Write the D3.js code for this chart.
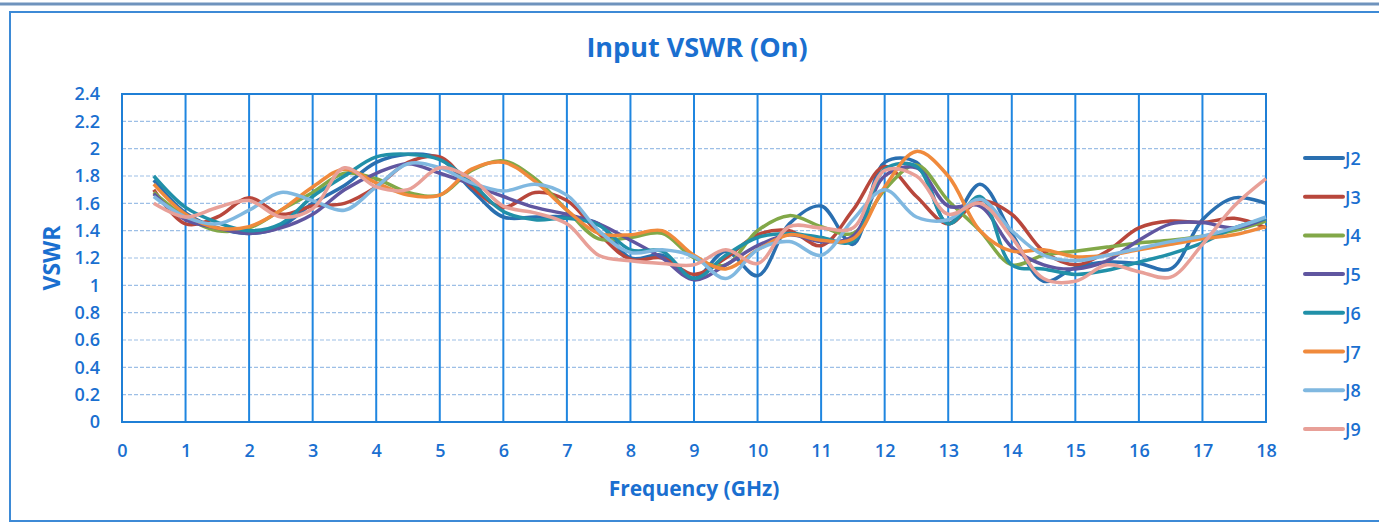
<!DOCTYPE html>
<html>
<head>
<meta charset="utf-8">
<script src="https://cdn.jsdelivr.net/npm/d3@7"></script>
<style>
  body { margin: 0; background: #fff; }
  text { font-family: "Open Sans", "Noto Sans", sans-serif; fill: #1a6fd0; }
  .tick text { font-size: 18px; }
  .title { font-size: 27px; font-weight: bold; }
  .axisTitle { font-size: 21px; font-weight: bold; }
</style>
</head>
<body>
<div id="chart"></div>
<script>
// Input VSWR (On) - 8 ports vs frequency

// frequency points (GHz)
var freq = [0.5, 1, 1.5, 2, 2.5, 3, 3.5, 4, 4.5, 5, 5.5, 6, 6.5, 7, 7.5, 8, 8.5, 9,
  9.5, 10, 10.5, 11, 11.5, 12, 12.5, 13, 13.5, 14, 14.5, 15, 15.5, 16, 16.5, 17, 17.5, 18];

var j2 = [1.77, 1.53, 1.42, 1.38, 1.43, 1.60, 1.73, 1.90, 1.96, 1.93, 1.70, 1.50, 1.50, 1.50, 1.45, 1.20, 1.22, 1.05,
  1.25, 1.07, 1.45, 1.58, 1.30, 1.90, 1.90, 1.45, 1.74, 1.38, 1.03, 1.13, 1.17, 1.16, 1.12, 1.48, 1.64, 1.60];
var j3 = [1.70, 1.45, 1.50, 1.64, 1.52, 1.58, 1.60, 1.72, 1.90, 1.94, 1.72, 1.57, 1.68, 1.62, 1.38, 1.19, 1.20, 1.08,
  1.20, 1.37, 1.40, 1.29, 1.55, 1.87, 1.65, 1.45, 1.62, 1.52, 1.25, 1.15, 1.25, 1.42, 1.47, 1.46, 1.49, 1.42];
var j4 = [1.68, 1.50, 1.40, 1.42, 1.55, 1.68, 1.82, 1.78, 1.68, 1.66, 1.84, 1.91, 1.78, 1.55, 1.34, 1.35, 1.38, 1.20,
  1.15, 1.40, 1.51, 1.43, 1.38, 1.70, 1.88, 1.62, 1.40, 1.15, 1.22, 1.25, 1.28, 1.31, 1.33, 1.36, 1.40, 1.47];
var j5 = [1.67, 1.48, 1.42, 1.38, 1.42, 1.52, 1.70, 1.82, 1.89, 1.82, 1.74, 1.65, 1.57, 1.52, 1.45, 1.33, 1.20, 1.04,
  1.15, 1.29, 1.37, 1.32, 1.36, 1.80, 1.86, 1.58, 1.58, 1.28, 1.15, 1.12, 1.18, 1.33, 1.45, 1.46, 1.42, 1.49];
var j6 = [1.80, 1.57, 1.46, 1.40, 1.45, 1.65, 1.80, 1.94, 1.96, 1.92, 1.75, 1.54, 1.48, 1.49, 1.44, 1.26, 1.25, 1.05,
  1.22, 1.35, 1.38, 1.35, 1.32, 1.85, 1.87, 1.45, 1.65, 1.15, 1.12, 1.08, 1.11, 1.17, 1.23, 1.31, 1.42, 1.49];
var j7 = [1.74, 1.52, 1.42, 1.43, 1.55, 1.72, 1.85, 1.75, 1.66, 1.66, 1.85, 1.90, 1.76, 1.55, 1.38, 1.37, 1.40, 1.22,
  1.12, 1.26, 1.37, 1.33, 1.34, 1.72, 1.98, 1.80, 1.40, 1.25, 1.26, 1.21, 1.22, 1.26, 1.30, 1.34, 1.37, 1.43];
var j8 = [1.65, 1.50, 1.45, 1.55, 1.68, 1.62, 1.55, 1.72, 1.89, 1.86, 1.75, 1.69, 1.74, 1.66, 1.40, 1.24, 1.26, 1.21,
  1.05, 1.26, 1.32, 1.22, 1.48, 1.70, 1.50, 1.48, 1.63, 1.40, 1.22, 1.18, 1.22, 1.27, 1.32, 1.36, 1.42, 1.50];
var j9 = [1.60, 1.50, 1.57, 1.62, 1.50, 1.56, 1.86, 1.72, 1.70, 1.86, 1.78, 1.58, 1.53, 1.45, 1.22, 1.18, 1.16, 1.15,
  1.26, 1.16, 1.43, 1.42, 1.42, 1.84, 1.80, 1.52, 1.60, 1.35, 1.05, 1.03, 1.15, 1.10, 1.06, 1.30, 1.58, 1.78];

var seriesNames = ['J2', 'J3', 'J4', 'J5', 'J6', 'J7', 'J8', 'J9'];
var seriesValues = [j2, j3, j4, j5, j6, j7, j8, j9];
var seriesColors = ['#2a6fb0', '#b8473c', '#82a848', '#6056a0', '#2190a8', '#f08a3c', '#80b8e0', '#e8a098'];

var xTicks = d3.range(0, 19, 1);
var yTicks = [0, 0.2, 0.4, 0.6, 0.8, 1, 1.2, 1.4, 1.6, 1.8, 2, 2.2, 2.4];

var svgWidth = 1379;
var svgHeight = 523;
var margin = { top: 94, right: 113, bottom: 101, left: 122 };
var width = svgWidth - margin.left - margin.right;
var height = svgHeight - margin.top - margin.bottom;

var svg = d3.select('#chart')
  .append('svg')
  .attr('width', svgWidth)
  .attr('height', svgHeight);

// outer frame
svg.append('line')
  .attr('x1', 0).attr('x2', svgWidth)
  .attr('y1', 4).attr('y2', 4)
  .attr('stroke', '#6f93bd')
  .attr('stroke-width', 3);
svg.append('rect')
  .attr('x', 10).attr('y', 12)
  .attr('width', svgWidth - 9).attr('height', svgHeight - 14)
  .attr('fill', 'none')
  .attr('stroke', '#3d8ad6')
  .attr('stroke-width', 2);

var chartGroup = svg.append('g')
  .attr('transform', `translate(${margin.left}, ${margin.top})`);

var xScale = d3.scaleLinear().domain([0, 18]).range([0, width]);
var yScale = d3.scaleLinear().domain([0, 2.4]).range([height, 0]);

// horizontal dashed grid
chartGroup.append('g')
  .selectAll('line')
  .data(yTicks.slice(1, -1))
  .enter()
  .append('line')
  .attr('x1', 0).attr('x2', width)
  .attr('y1', d => yScale(d)).attr('y2', d => yScale(d))
  .attr('stroke', '#9dbfe6')
  .attr('stroke-width', 1.2)
  .attr('stroke-dasharray', '4,2');

// vertical solid grid
chartGroup.append('g')
  .selectAll('line')
  .data(xTicks.slice(1, -1))
  .enter()
  .append('line')
  .attr('x1', d => xScale(d)).attr('x2', d => xScale(d))
  .attr('y1', 0).attr('y2', height)
  .attr('stroke', '#1f86e0')
  .attr('stroke-width', 2);

// plot border
chartGroup.append('rect')
  .attr('width', width).attr('height', height)
  .attr('fill', 'none')
  .attr('stroke', '#1f7fd6')
  .attr('stroke-width', 2);

// axes (labels only)
var xAxis = chartGroup.append('g')
  .attr('transform', `translate(0, ${height})`)
  .call(d3.axisBottom(xScale).tickValues(xTicks).tickSize(0).tickPadding(22).tickFormat(d3.format('d')));
var yAxis = chartGroup.append('g')
  .call(d3.axisLeft(yScale).tickValues(yTicks).tickSize(0).tickPadding(22).tickFormat(d => d3.format('~g')(d)));
xAxis.select('.domain').remove();
yAxis.select('.domain').remove();
svg.selectAll('.tick text').attr('fill', '#1a6fd0').style('font-weight', 600);

// lines
var line = d3.line()
  .x((d, i) => xScale(freq[i]))
  .y(d => yScale(d))
  .curve(d3.curveCatmullRom.alpha(0.5));

chartGroup.selectAll('.series')
  .data(seriesValues)
  .enter()
  .append('path')
  .attr('class', 'series')
  .attr('d', d => line(d))
  .attr('fill', 'none')
  .attr('stroke', (d, i) => seriesColors[i])
  .attr('stroke-width', 3.5)
  .attr('stroke-linejoin', 'round');

// titles
svg.append('text')
  .attr('class', 'title')
  .attr('x', 697).attr('y', 57)
  .attr('text-anchor', 'middle')
  .text('Input VSWR (On)');

svg.append('text')
  .attr('class', 'axisTitle')
  .attr('x', 694).attr('y', 496)
  .attr('text-anchor', 'middle')
  .text('Frequency (GHz)');

svg.append('text')
  .attr('class', 'axisTitle')
  .attr('transform', 'translate(60, 258) rotate(-90)')
  .attr('text-anchor', 'middle')
  .style('font-size', '23px')
  .text('VSWR');

// legend
var legend = svg.append('g')
  .attr('transform', 'translate(1305, 158)');
var legendItem = legend.selectAll('g')
  .data(seriesNames)
  .enter()
  .append('g')
  .attr('transform', (d, i) => `translate(0, ${i * 38.7})`);
legendItem.append('line')
  .attr('x1', 0).attr('x2', 38)
  .attr('stroke', (d, i) => seriesColors[i])
  .attr('stroke-width', 4)
  .attr('stroke-linecap', 'round');
legendItem.append('text')
  .attr('x', 40).attr('y', 7)
  .style('font-size', '18px')
  .style('font-weight', 600)
  .text(d => d);
</script>
</body>
</html>
